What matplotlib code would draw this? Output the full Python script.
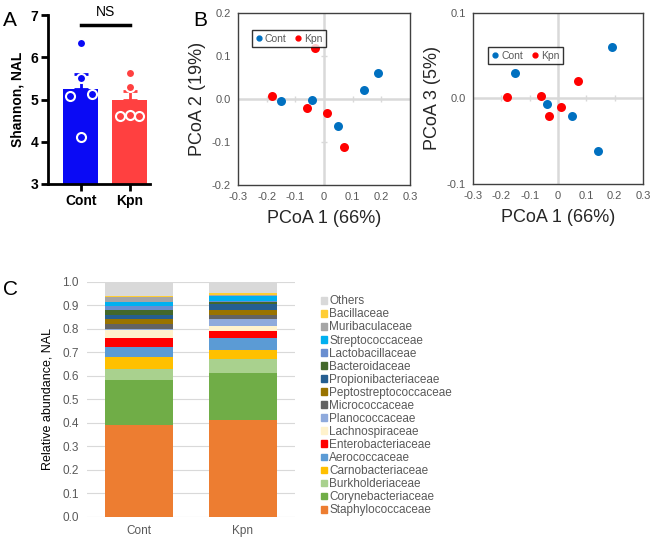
import numpy as np
import matplotlib
matplotlib.use("Agg")
import matplotlib.pyplot as plt
from matplotlib.patches import Patch
from matplotlib.lines import Line2D

plt.rcParams['font.family'] = ['Liberation Sans', 'DejaVu Sans']

# ---- Panel A: Shannon index
groups = ["Cont", "Kpn"]
shannon_cont = [6.35, 5.50, 5.09, 5.13, 4.11]
shannon_kpn = [5.62, 5.30, 4.62, 4.63, 4.62]
shannon_mean = [5.24, 4.98]
shannon_sem = [0.37, 0.22]
# x jitter of the dots inside each bar
jitter_cont = [0.0, 0.0, -0.22, 0.22, 0.0]
jitter_kpn = [0.0, 0.0, -0.2, 0.0, 0.2]

# ---- Panel B: PCoA
pc1_cont = [0.19, 0.14, -0.15, -0.04, 0.05]
pc2_cont = [0.06, 0.02, -0.005, -0.003, -0.062]
pc3_cont = [0.06, -0.061, 0.030, -0.007, -0.020]
pc1_kpn = [-0.03, -0.18, -0.06, 0.01, 0.07]
pc2_kpn = [0.118, 0.008, -0.021, -0.032, -0.111]
pc3_kpn = [-0.020, 0.002, 0.003, -0.010, 0.020]

# ---- Panel C: relative abundance (bottom to top)
families = ["Staphylococcaceae", "Corynebacteriaceae", "Burkholderiaceae",
            "Carnobacteriaceae", "Aerococcaceae", "Enterobacteriaceae",
            "Lachnospiraceae", "Planococcaceae", "Micrococcaceae",
            "Peptostreptococcaceae", "Propionibacteriaceae", "Bacteroidaceae",
            "Lactobacillaceae", "Streptococcaceae", "Muribaculaceae",
            "Bacillaceae", "Others"]
abund_cont = [0.39, 0.19, 0.05, 0.05, 0.04, 0.042, 0.033, 0.005, 0.02,
              0.02, 0.02, 0.019, 0.017, 0.017, 0.02, 0.007, 0.06]
abund_kpn = [0.41, 0.20, 0.06, 0.04, 0.05, 0.03, 0.02, 0.03, 0.02,
             0.02, 0.024, 0.011, 0.003, 0.02, 0.006, 0.007, 0.049]
fam_colors = ["#ED7D31", "#70AD47", "#A9D18E", "#FFC000", "#5B9BD5", "#FF0000",
              "#FFF2CC", "#8FAADC", "#636363", "#997300", "#255E91", "#43682B",
              "#698ED0", "#00B0F0", "#A5A5A5", "#FFCD33", "#D9D9D9"]

fig = plt.figure(figsize=(6.51, 5.38), dpi=100)

# ================= A =================
axA = fig.add_axes([0.0737, 0.658, 0.157, 0.314])
bar_cols = ["#0A0AF5", "#FF4040"]
axA.bar([0, 1], shannon_mean, width=0.71, color=bar_cols, bottom=0, zorder=1)
for i in range(2):
    axA.errorbar(i, shannon_mean[i], yerr=[[0], [shannon_sem[i]]], fmt="none",
                 ecolor=bar_cols[i], elinewidth=2, capsize=5, capthick=2, zorder=2)
axA.plot(np.array(jitter_cont), shannon_cont, "o", ms=6.5, mfc=bar_cols[0],
         mec="white", mew=1.5, zorder=3, clip_on=False)
axA.plot(1 + np.array(jitter_kpn), shannon_kpn, "o", ms=6.5, mfc=bar_cols[1],
         mec="white", mew=1.5, zorder=3, clip_on=False)
axA.plot([0, 1], [6.76, 6.76], color="black", lw=2.5)
axA.text(0.5, 6.9, "NS", ha="center", va="bottom", fontsize=10)
axA.set_ylim(3, 7)
axA.set_xlim(-0.67, 1.42)
axA.set_yticks([3, 4, 5, 6, 7])
axA.set_xticks([0, 1])
axA.set_xticklabels(groups, fontweight="bold", fontsize=10)
for lab in axA.get_yticklabels():
    lab.set_fontweight("bold")
    lab.set_fontsize(10)
axA.set_ylabel("Shannon, NAL", fontweight="bold", fontsize=10)
for s in ["top", "right"]:
    axA.spines[s].set_visible(False)
for s in ["left", "bottom"]:
    axA.spines[s].set_linewidth(2)
axA.tick_params(width=2, length=5, pad=2)
fig.text(0.004, 0.98, "A", fontsize=15, va="top")


# ================= B =================
def pcoa_panel(rect, y_cont, y_kpn, ylim, yticks, ylabel, leg_anchor):
    ax = fig.add_axes(rect)
    ax.axhline(0, color="#D9D9D9", lw=1.8, zorder=0)
    ax.axvline(0, color="#D9D9D9", lw=1.8, zorder=0)
    # small tick marks on the crosshair
    xt = [-0.2, -0.1, 0.1, 0.2]
    ax.plot(xt, [0] * len(xt), "|", color="#D9D9D9", ms=5, mew=1, zorder=0)
    yt = [t for t in yticks if t != 0 and abs(t) < ylim[1]]
    ax.plot([0] * len(yt), yt, "_", color="#D9D9D9", ms=5, mew=1, zorder=0)
    ax.scatter(pc1_cont, y_cont, s=42, color="#0070C0", zorder=3, lw=0)
    ax.scatter(pc1_kpn, y_kpn, s=42, color="#FF0000", zorder=3, lw=0)
    ax.set_xlim(-0.3, 0.3)
    ax.set_ylim(*ylim)
    ax.set_xticks([-0.3, -0.2, -0.1, 0, 0.1, 0.2, 0.3])
    ax.set_xticklabels(["-0.3", "-0.2", "-0.1", "0", "0.1", "0.2", "0.3"])
    ax.set_yticks(yticks)
    ax.set_yticklabels(["%.1f" % t for t in yticks])
    ax.tick_params(length=0, labelsize=8, labelcolor="#595959", pad=5)
    for s in ax.spines.values():
        s.set_color("#404040")
        s.set_linewidth(1)
    ax.set_xlabel("PCoA 1 (66%)", fontsize=13, color="#262626", labelpad=6)
    ax.set_ylabel(ylabel, fontsize=13, color="#262626", labelpad=4)
    handles = [Line2D([], [], marker="o", ls="", color="#0070C0", ms=3.5),
               Line2D([], [], marker="o", ls="", color="#FF0000", ms=3.5)]
    leg = ax.legend(handles, ["Cont", "Kpn"], ncol=2, loc="upper left",
                    bbox_to_anchor=leg_anchor, fontsize=7.5, frameon=True,
                    fancybox=False, edgecolor="black", handlelength=0.6,
                    handletextpad=0.3, columnspacing=0.8, borderpad=0.35,
                    labelcolor="#595959")
    leg.get_frame().set_linewidth(1)
    return ax


pcoa_panel([0.3656, 0.656, 0.264, 0.32], pc2_cont, pc2_kpn, (-0.2, 0.2),
           [-0.2, -0.1, 0.0, 0.1, 0.2], "PCoA 2 (19%)", (0.05, 0.93))
pcoa_panel([0.7266, 0.658, 0.261, 0.318], pc3_cont, pc3_kpn, (-0.1, 0.1),
           [-0.1, 0.0, 0.1], "PCoA 3 (5%)", (0.06, 0.83))
fig.text(0.297, 0.98, "B", fontsize=15, va="top")

# ================= C =================
axC = fig.add_axes([0.1336, 0.0396, 0.3195, 0.4368])
bottoms = np.zeros(2)
for fam, col, a, b in zip(families, fam_colors, abund_cont, abund_kpn):
    vals = np.array([a, b])
    axC.bar([0, 1], vals, width=0.645, bottom=bottoms, color=col, label=fam,
            zorder=2)
    bottoms += vals
axC.set_xlim(-0.5, 1.5)
axC.set_ylim(0, 1.0)
axC.set_yticks(np.arange(0, 1.01, 0.1))
axC.set_yticklabels(["%.1f" % t for t in np.arange(0, 1.01, 0.1)])
axC.set_xticks([0, 1])
axC.set_xticklabels(groups)
axC.grid(axis="y", color="#D9D9D9", lw=0.8, zorder=0)
for s in axC.spines.values():
    s.set_visible(False)
axC.tick_params(length=0, labelsize=8.5, labelcolor="#595959", pad=6)
axC.set_ylabel("Relative abundance, NAL", fontsize=9, labelpad=6)

handles = [Patch(color=c) for c in fam_colors][::-1]
fig.legend(handles, families[::-1], loc="upper left",
           bbox_to_anchor=(0.493, 0.451), frameon=False, fontsize=8.5,
           labelcolor="#595959", handlelength=0.5, handleheight=0.5,
           handletextpad=0.2, labelspacing=0.09, borderpad=0, borderaxespad=0)
fig.text(0.004, 0.48, "C", fontsize=15, va="top")

fig.savefig("out.png", dpi=100)
